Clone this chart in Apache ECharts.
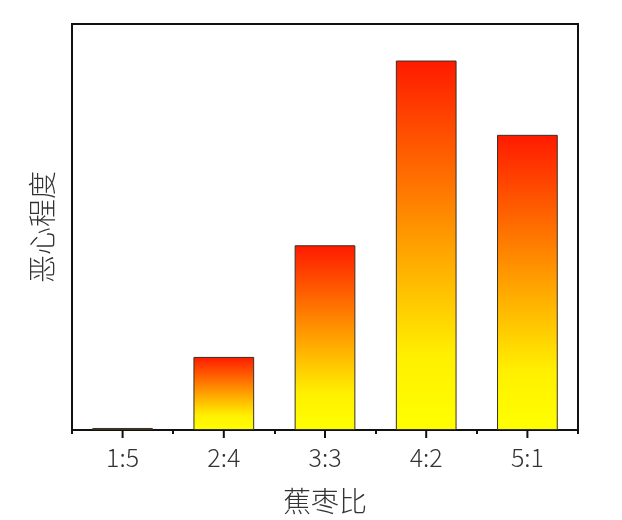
<!DOCTYPE html>
<html>
<head>
<meta charset="utf-8">
<script src="https://cdn.jsdelivr.net/npm/echarts@6/dist/echarts.min.js"></script>
<style>
  html, body { margin: 0; padding: 0; background: #fff; }
  #main { width: 622px; height: 520px; }
</style>
</head>
<body>
<div id="main"></div>
<script>
// 数据
var categories = ['1:5', '2:4', '3:3', '4:2', '5:1'];
var values = [0.5, 18, 45.5, 91, 72.7];
var xName = '蕉枣比';
var yName = '恶心程度';

var myChart = echarts.init(document.getElementById('main'));

var barColor = new echarts.graphic.LinearGradient(0, 0, 0, 1, [
    {offset: 0, color: '#ff1a00'},
    {offset: 0.5, color: '#ffa000'},
    {offset: 0.8, color: '#fff000'},
    {offset: 1, color: '#ffff00'}
]);

var font = '"Noto Sans CJK SC", "Noto Sans", sans-serif';

myChart.setOption({
    animation: false,
    grid: {
        left: 72, right: 44, top: 24, bottom: 89,
        show: true,
        borderColor: '#111',
        borderWidth: 2
    },
    xAxis: {
        type: 'category',
        data: categories,
        name: xName,
        nameLocation: 'middle',
        nameGap: 57,
        nameTextStyle: {fontSize: 28, color: '#333', fontFamily: font, fontWeight: 300},
        axisLine: {show: true, lineStyle: {color: '#111', width: 2}},
        axisTick: {show: true, length: 4, lineStyle: {color: '#111', width: 2}},
        axisLabel: {fontSize: 25, color: '#333', fontFamily: font, fontWeight: 300, margin: 15}
    },
    yAxis: {
        type: 'value',
        min: 0,
        max: 100,
        name: yName,
        nameLocation: 'middle',
        nameGap: 16,
        nameTextStyle: {fontSize: 28, color: '#333', fontFamily: font, fontWeight: 300},
        axisLine: {show: true, lineStyle: {color: '#111', width: 2}},
        axisTick: {show: false},
        axisLabel: {show: false},
        splitLine: {show: false}
    },
    series: [
        {
            type: 'bar',
            data: values,
            barWidth: '60%',
            itemStyle: {
                color: barColor,
                borderColor: '#3a3020',
                borderWidth: 1
            }
        },
        {
            // 分类中心的长刻度，位置取自坐标轴
            type: 'custom',
            silent: true,
            clip: false,
            z: 5,
            data: categories.map(function (c, i) { return [i, 0]; }),
            encode: {x: 0, y: 1},
            renderItem: function (params, api) {
                var p = api.coord([api.value(0), 0]);
                return {
                    type: 'line',
                    shape: {x1: p[0], y1: p[1], x2: p[0], y2: p[1] + 8},
                    style: {stroke: '#111', lineWidth: 2}
                };
            }
        }
    ]
});
</script>
</body>
</html>
